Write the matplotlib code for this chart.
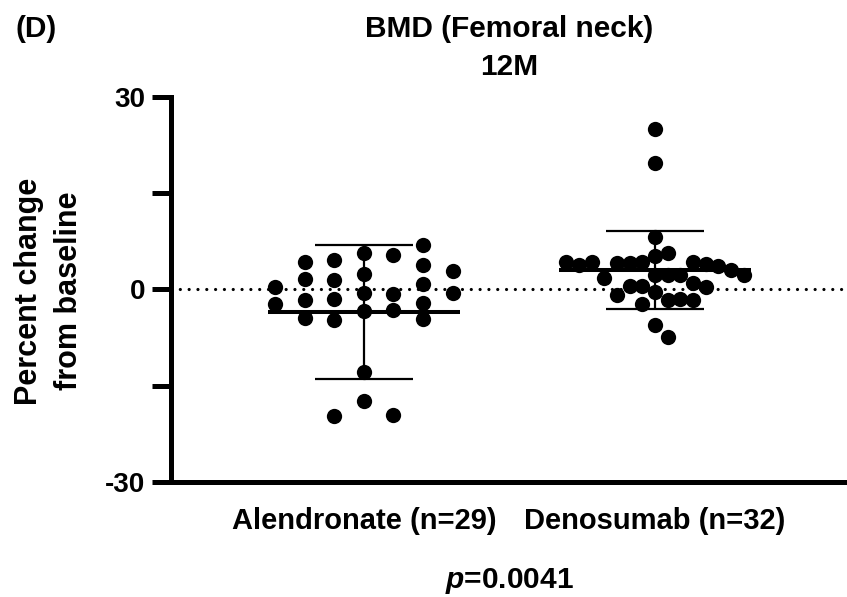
import numpy as np
import matplotlib
matplotlib.use("Agg")
import matplotlib.pyplot as plt

plt.rcParams['font.family'] = ['Liberation Sans', 'DejaVu Sans']
plt.rcParams['font.weight'] = 'bold'
plt.rcParams['mathtext.fontset'] = 'custom'
plt.rcParams['mathtext.it'] = 'Liberation Sans:italic:bold'
plt.rcParams['mathtext.rm'] = 'Liberation Sans:bold'

# percent change from baseline, femoral neck BMD at 12 months
# (one alendronate value lies below the -30 axis limit and is clipped)
alendronate = [5.72, -0.52, -3.38, -12.9, -17.4, -43.4,
               5.30, -0.70, -3.28, -19.6,
               4.57, 1.40, -1.45, -4.84, -19.7,
               6.91, 3.74, 0.88, -2.05, -4.55,
               4.26, 1.55, -1.72, -4.42,
               2.34, -0.52,
               2.86, 0.30, -2.22]
denosumab = [25.07, 19.66, 8.16, 2.23, -0.42, -5.57,
             2.23, -1.67, -7.38,
             4.26, 0.51, -2.34,
             5.19, 2.23, -1.56,
             4.17, 0.51,
             4.26, 1.05, -1.72,
             4.17, -0.94,
             4.01, 0.42,
             1.83,
             3.63,
             4.26,
             5.62, 3.01,
             3.85,
             2.23,
             4.26]
groups = ['Alendronate (n=29)', 'Denosumab (n=32)']
title = 'BMD (Femoral neck)'
subtitle = '12M'
p_text = '$p$=0.0041'


def column_layout(values, step, thr=2.5):
    # greedy: put each point in the nearest free column (0, +1, -1, +2, ...)
    cols = {}
    order = [0] + [k for i in range(1, 40) for k in (i, -i)]
    offs = []
    for v in values:
        for c in order:
            if all(abs(v - u) >= thr for u in cols.get(c, [])):
                cols.setdefault(c, []).append(v)
                offs.append(c * step)
                break
    return np.array(offs)


fig = plt.figure(figsize=(8.47, 5.97), dpi=100)
ax = fig.add_axes([0.2015, 0.1931, 0.7985, 0.6444])

steps = [0.1014, 0.0436]
for i, (vals, step) in enumerate(zip([alendronate, denosumab], steps)):
    vals = np.array(vals)
    x = i + column_layout(vals, step)
    ax.scatter(x, vals, s=121, color='black', linewidths=0, zorder=3)
    m = vals.mean()
    sd = vals.std(ddof=1)
    ax.hlines(m, i - 0.33, i + 0.33, color='black', lw=2.9, zorder=4)
    ax.vlines(i, m - sd, m + sd, color='black', lw=1.6, zorder=4)
    ax.hlines([m - sd, m + sd], i - 0.168, i + 0.168, color='black', lw=1.6, zorder=4)

ax.axhline(0, color='black', lw=2.3, linestyle=(0, (0.01, 2.75)),
           dash_capstyle='round', zorder=1)

ax.set_xlim(-0.6643, 1.6598)
ax.set_ylim(-30, 30)
ax.set_yticks([-30, -15, 0, 15, 30])
ax.set_yticklabels(['-30', '', '0', '', '30'])
ax.set_xticks([0, 1])
ax.set_xticklabels(groups)
for s in ['top', 'right']:
    ax.spines[s].set_visible(False)
for s in ['left', 'bottom']:
    ax.spines[s].set_linewidth(3.6)
ax.tick_params(axis='y', length=13.7, width=3.6, pad=4.5, labelsize=20)
ax.tick_params(axis='x', length=0, pad=18, labelsize=21)

fig.text(49 / 847, 1 - 291 / 597, 'Percent change\nfrom baseline', rotation=90,
         ha='center', va='center', fontsize=22, fontweight='bold',
         linespacing=1.45)
fig.text(509 / 847, 1 - 37.3 / 597, title, ha='center', va='baseline',
         fontsize=21.5, fontweight='bold')
fig.text(509 / 847, 1 - 75 / 597, subtitle, ha='center', va='baseline',
         fontsize=21.5, fontweight='bold')
fig.text(15 / 847, 1 - 36.7 / 597, '(D)', ha='left', va='baseline',
         fontsize=21.5, fontweight='bold')
fig.text(509 / 847, 1 - 588.3 / 597, p_text, ha='center', va='baseline',
         fontsize=21.5, fontweight='bold')

fig.savefig('out.png', dpi=100)
